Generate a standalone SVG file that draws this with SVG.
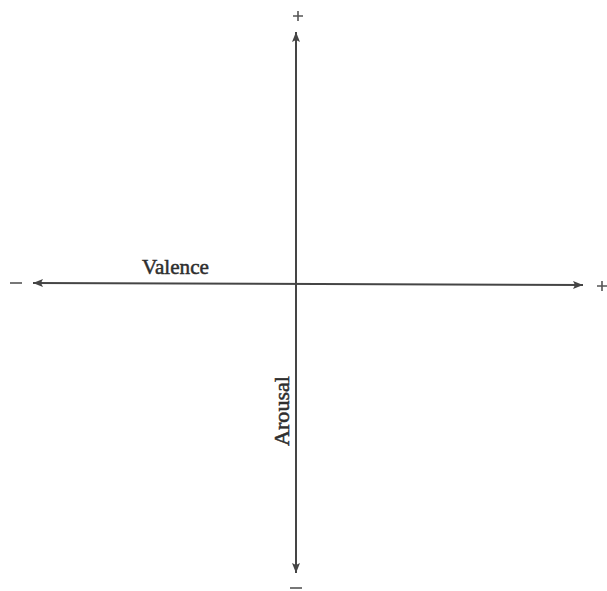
<svg xmlns="http://www.w3.org/2000/svg" width="607" height="591" viewBox="0 0 607 591">
<style>
.ax{stroke:#454545;stroke-width:2;fill:none}
.lbl{font-family:"Liberation Serif","DejaVu Serif",serif;font-size:21px;fill:#2e2e2e;stroke:#2e2e2e;stroke-width:0.5}
.sign{stroke:#555;stroke-width:1.6}
</style>
<defs>
<marker id="ah" viewBox="0 0 10 8" refX="10" refY="4" markerWidth="10" markerHeight="8" markerUnits="userSpaceOnUse" orient="auto-start-reverse">
<path d="M0,0 L10,4 L0,8 L2,4 Z" fill="#454545"/>
</marker>
</defs>
<rect width="607" height="591" fill="#fff"/>
<g id="connectors">
<line id="valence-axis" class="ax" x1="33" y1="283" x2="583" y2="285" marker-start="url(#ah)" marker-end="url(#ah)"/>
<line id="arousal-axis" class="ax" x1="296" y1="32" x2="296" y2="573" marker-start="url(#ah)" marker-end="url(#ah)"/>
</g>
<g id="valence-label"><text class="lbl" x="142" y="274" textLength="67" lengthAdjust="spacingAndGlyphs">Valence</text></g>
<g id="arousal-label"><text class="lbl" transform="translate(289,446) rotate(-90)" textLength="70" lengthAdjust="spacingAndGlyphs">Arousal</text></g>
<g id="sign-top"><path class="sign" d="M293,16 H303 M298,11 V21"/></g>
<g id="sign-right"><path class="sign" d="M597,286 H607 M602,281 V291"/></g>
<g id="sign-left"><path class="sign" d="M10,283 H22"/></g>
<g id="sign-bottom"><path class="sign" d="M290,588 H302"/></g>
</svg>
